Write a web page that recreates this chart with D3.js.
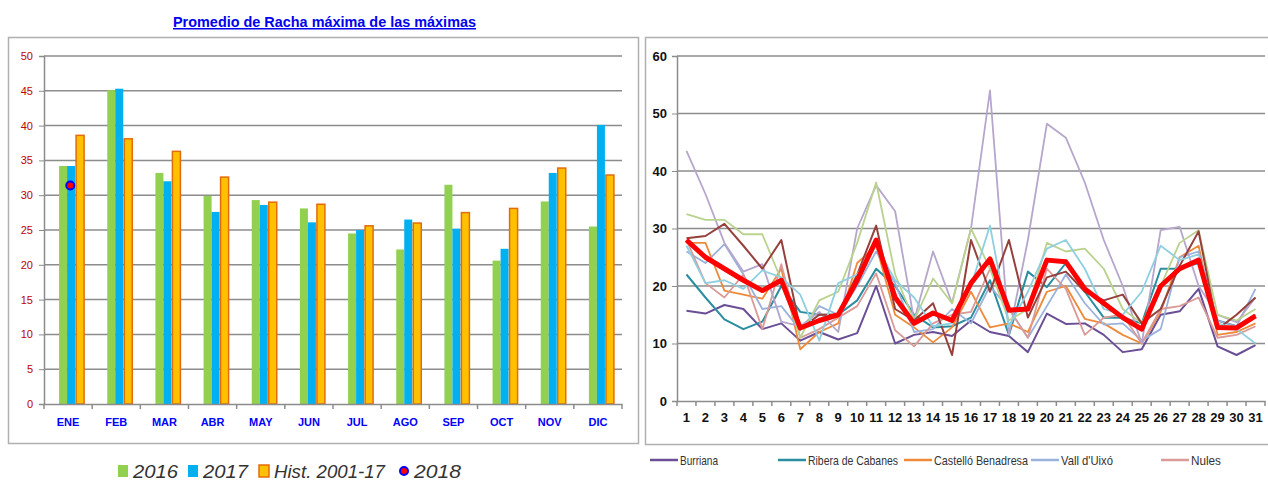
<!DOCTYPE html>
<html>
<head>
<meta charset="utf-8">
<script src="https://cdn.jsdelivr.net/npm/d3@7"></script>
<style>
  body { margin: 0; background: #fff; }
  svg { display: block; }
  text { font-family: "Liberation Sans", Arial, sans-serif; }
</style>
</head>
<body>
<div id="chart"></div>
<script>
// Left chart data: monthly averages
const MONTHS = ["ENE", "FEB", "MAR", "ABR", "MAY", "JUN", "JUL", "AGO", "SEP", "OCT", "NOV", "DIC"];
const VAL_2016 = [34.2, 45.1, 33.2, 29.9, 29.3, 28.1, 24.5, 22.2, 31.5, 20.6, 29.1, 25.5];
const VAL_2017 = [34.2, 45.3, 32.0, 27.6, 28.6, 26.1, 25.0, 26.5, 25.2, 22.3, 33.2, 40.1];
const VAL_HIST = [38.6, 38.1, 36.3, 32.6, 29.0, 28.7, 25.6, 26.0, 27.5, 28.1, 33.9, 32.9];
const VAL_2018 = [31.4];
const LEFT_TICKS = [0, 5, 10, 15, 20, 25, 30, 35, 40, 45, 50];

// Right chart data: daily values per station
const DAYS = d3.range(1, 32);
const RIGHT_TICKS = [0, 10, 20, 30, 40, 50, 60];
const BURRIANA = [15.7, 15.2, 16.7, 16, 12.5, 13.5, 10.5, 12, 10.7, 11.8, 20, 10, 11.5, 12, 11.3, 14, 12, 11.3, 8.5, 15.2, 13.4, 13.5, 11.5, 8.5, 9, 15, 15.6, 19.5, 9.5, 8, 9.7];
const RIBERA = [22, 18, 14.2, 12.5, 13.8, 20, 15.5, 15, 15, 17.5, 23, 20, 15, 12.8, 13, 14.5, 21, 11.5, 22.5, 19.8, 24, 19, 14.5, 14.5, 13.5, 23, 23, 24, 14, 13, 15];
const CASTELLO = [27.5, 27.5, 19.2, 18.5, 17.8, 23, 9, 12, 13.5, 24, 27, 15, 12.8, 10.2, 12.8, 19, 12.8, 13.5, 12, 19, 20, 14.3, 13.5, 11.5, 10, 15.5, 25, 27, 11.5, 12, 13.5];
const VALL_UIXO = [26, 24, 27.3, 22, 16, 16.5, 12.3, 16.5, 15, 20, 26, 20.5, 12, 12.5, 16, 13.5, 20, 16, 11, 16.5, 22, 17, 13.3, 13.5, 10.5, 12.5, 25, 26, 14, 13, 19.5];
const NULES = [28, 20.5, 18, 22, 12.5, 23.8, 11, 12.5, 14.5, 16.5, 22.2, 12.3, 9.5, 13.5, 15, 15.5, 23, 16, 11, 23, 19.5, 11.5, 14.5, 15, 10, 16, 16.5, 18, 11, 11.5, 13];
// series whose legend entries are cut off in the picture
const OTHER_A = [43.5, 36, 27.5, 22.5, 23.8, 13.8, 13, 15.5, 12, 30, 37.5, 33, 14, 26, 17, 30, 54, 11.5, 28, 48.2, 45.8, 38, 28, 20, 10, 29.7, 30.3, 20, 15, 13.7, 18];
const OTHER_B = [32.5, 31.5, 31.5, 29, 29, 21, 11, 17.5, 19, 27.5, 38, 22, 14, 21.3, 17, 30, 23, 14, 16, 27.5, 26, 26.5, 23, 16, 13.5, 20, 27.5, 29.7, 15, 14, 16];
const OTHER_C = [28.3, 28.7, 30.8, 27, 23, 28, 12.5, 15, 15, 22, 30.5, 16, 14, 17, 8, 28, 19, 28, 14.5, 21.5, 22.5, 19, 17.5, 18.5, 13.5, 16, 23.5, 29.5, 12.5, 15, 18];
const OTHER_D = [27, 20.5, 21, 19.5, 22.7, 21.5, 18.5, 10.5, 20.5, 22, 27, 21, 18, 13, 13.5, 20, 30.5, 13, 19, 26.5, 28, 23, 16, 15, 19, 27, 24.5, 25.5, 13.5, 12.5, 10];
const AVERAGE = [28, 25, 23, 21, 19.2, 21, 12.7, 14, 15, 21, 28, 18, 13.5, 15.3, 14, 20.5, 24.7, 15.8, 16, 24.5, 24.2, 19.5, 17, 14.5, 12.5, 20, 23, 24.5, 12.8, 12.7, 14.8];

const WIDTH = 1268;
const HEIGHT = 483;

const svg = d3.select("#chart").append("svg")
    .attr("width", WIDTH).attr("height", HEIGHT);

drawLeft();
drawRight();

function drawLeft () {
    const plot = { left: 44, right: 622, top: 56, bottom: 404 };

    // frame
    svg.append("rect").attr("x", 8.5).attr("y", 37.5).attr("width", 630).attr("height", 406)
        .attr("fill", "#fff").attr("stroke", "#b0b0b0").attr("stroke-width", 1.5);

    // title
    svg.append("text").attr("x", 324.5).attr("y", 27).attr("text-anchor", "middle")
        .attr("font-size", 15).attr("font-weight", "bold").attr("fill", "#0000ee")
        .attr("text-decoration", "underline")
        .attr("textLength", 303).attr("lengthAdjust", "spacingAndGlyphs")
        .text("Promedio de Racha máxima de las máximas");

    const x = d3.scaleBand().domain(MONTHS).range([plot.left, plot.right]);
    const y = d3.scaleLinear().domain([0, 50]).range([plot.bottom, plot.top]);

    const g = svg.append("g");

    // grid lines
    g.selectAll(".grid").data(LEFT_TICKS.filter(d => d > 0)).enter().append("line")
        .attr("x1", plot.left).attr("x2", plot.right)
        .attr("y1", d => y(d)).attr("y2", d => y(d))
        .attr("stroke", "#8c8c8c").attr("stroke-width", 1.5);

    const barW = 8;
    const offset = x.bandwidth() / 2 - 9;
    const series = [
        { values: VAL_2016, fill: "#92d050", stroke: "none", dx: 0 },
        { values: VAL_2017, fill: "#00b0f0", stroke: "none", dx: barW },
        { values: VAL_HIST, fill: "#ffc000", stroke: "#e36c09", dx: barW * 2 + 1 }
    ];
    series.forEach(s => {
        g.selectAll(null).data(MONTHS).enter().append("rect")
            .attr("x", d => x(d) + offset + s.dx)
            .attr("y", (d, i) => y(s.values[i]))
            .attr("width", barW)
            .attr("height", (d, i) => y(0) - y(s.values[i]))
            .attr("fill", s.fill)
            .attr("stroke", s.stroke).attr("stroke-width", 1.5);
    });

    // 2018 points
    g.selectAll(".p2018").data(VAL_2018).enter().append("circle")
        .attr("cx", (d, i) => x(MONTHS[i]) + offset + barW * 1.4)
        .attr("cy", d => y(d))
        .attr("r", 4).attr("fill", "#ff0000").attr("stroke", "#0000ff").attr("stroke-width", 2);

    // y axis
    const yAxis = g.append("g").attr("transform", `translate(${plot.left},0)`)
        .call(d3.axisLeft(y).tickValues(LEFT_TICKS).tickSize(5).tickPadding(6));
    yAxis.select(".domain").attr("stroke", "#8c8c8c").attr("stroke-width", 1.5);
    yAxis.selectAll(".tick line").attr("stroke", "#8c8c8c");
    yAxis.selectAll("text").attr("fill", "#c00000").attr("font-size", 11)
        .attr("font-family", "'Liberation Sans', sans-serif");

    // x axis
    const xAxis = g.append("g").attr("transform", `translate(0,${plot.bottom})`)
        .call(d3.axisBottom(x).tickSize(0).tickPadding(14));
    xAxis.select(".domain").attr("stroke", "#8c8c8c").attr("stroke-width", 1.5);
    xAxis.selectAll("text").attr("fill", "#0000ff").attr("font-size", 11).attr("font-weight", "bold")
        .attr("font-family", "'Liberation Sans', sans-serif");
    g.selectAll(".xtick").data(d3.range(MONTHS.length + 1)).enter().append("line")
        .attr("x1", i => plot.left + i * x.step()).attr("x2", i => plot.left + i * x.step())
        .attr("y1", plot.bottom).attr("y2", plot.bottom + 5)
        .attr("stroke", "#8c8c8c").attr("stroke-width", 1.5);

    // legend
    const leg = svg.append("g").attr("font-size", 19).attr("font-style", "italic").attr("fill", "#333");
    const items = [
        { label: "2016", x: 118, w: 45, type: "rect", fill: "#92d050" },
        { label: "2017", x: 188, w: 45, type: "rect", fill: "#00b0f0" },
        { label: "Hist. 2001-17", x: 259, w: 111, type: "rect", fill: "#ffc000", stroke: "#e36c09" },
        { label: "2018", x: 399, w: 47, type: "dot" }
    ];
    items.forEach(it => {
        if (it.type === "rect") {
            leg.append("rect").attr("x", it.x).attr("y", 465).attr("width", 10).attr("height", 12)
                .attr("fill", it.fill).attr("stroke", it.stroke || "none").attr("stroke-width", 1.5);
        } else {
            leg.append("circle").attr("cx", it.x + 5).attr("cy", 471).attr("r", 4)
                .attr("fill", "#ff0000").attr("stroke", "#0000ff").attr("stroke-width", 2);
        }
        leg.append("text").attr("x", it.x + 15).attr("y", 478)
            .attr("textLength", it.w).attr("lengthAdjust", "spacingAndGlyphs")
            .text(it.label);
    });
}

function drawRight () {
    const plot = { left: 677, right: 1265, top: 56, bottom: 401 };

    svg.append("rect").attr("x", 645.5).attr("y", 37.5).attr("width", 640).attr("height", 407)
        .attr("fill", "#fff").attr("stroke", "#b0b0b0").attr("stroke-width", 1.5);

    const x = d3.scaleBand().domain(DAYS).range([plot.left, plot.right]);
    const y = d3.scaleLinear().domain([0, 60]).range([plot.bottom, plot.top]);
    const g = svg.append("g");

    g.selectAll(".grid").data(RIGHT_TICKS.filter(d => d > 0)).enter().append("line")
        .attr("x1", plot.left).attr("x2", plot.right)
        .attr("y1", d => y(d)).attr("y2", d => y(d))
        .attr("stroke", "#8c8c8c").attr("stroke-width", 1.5);

    const yAxis = g.append("g").attr("transform", `translate(${plot.left},0)`)
        .call(d3.axisLeft(y).tickValues(RIGHT_TICKS).tickSize(5).tickPadding(5));
    yAxis.select(".domain").attr("stroke", "#8c8c8c").attr("stroke-width", 1.5);
    yAxis.selectAll(".tick line").attr("stroke", "#8c8c8c");
    yAxis.selectAll("text").attr("fill", "#111").attr("font-size", 13).attr("font-weight", "bold")
        .attr("font-family", "'Liberation Sans', sans-serif");

    const xAxis = g.append("g").attr("transform", `translate(0,${plot.bottom})`)
        .call(d3.axisBottom(x).tickSize(0).tickPadding(12));
    xAxis.select(".domain").attr("stroke", "#8c8c8c").attr("stroke-width", 1.5);
    xAxis.selectAll("text").attr("fill", "#111").attr("font-size", 13).attr("font-weight", "bold")
        .attr("font-family", "'Liberation Sans', sans-serif");
    g.selectAll(".xtick").data(d3.range(DAYS.length + 1)).enter().append("line")
        .attr("x1", i => plot.left + i * x.step()).attr("x2", i => plot.left + i * x.step())
        .attr("y1", plot.bottom).attr("y2", plot.bottom + 5)
        .attr("stroke", "#8c8c8c").attr("stroke-width", 1.5);

    const line = d3.line()
        .x((d, i) => x(DAYS[i]) + x.bandwidth() / 2)
        .y(d => y(d));

    const series = [
        { name: "Burriana", values: BURRIANA, color: "#6a4e96", width: 2, legend: true, w: 38 },
        { name: "Ribera de Cabanes", values: RIBERA, color: "#2a8ea0", width: 2, legend: true, w: 90 },
        { name: "Castelló Benadresa", values: CASTELLO, color: "#ee8a3a", width: 1.8, legend: true, w: 94 },
        { name: "Vall d'Uixó", values: VALL_UIXO, color: "#9ab2dc", width: 1.8, legend: true, w: 52 },
        { name: "Nules", values: NULES, color: "#d99a98", width: 1.8, legend: true, w: 30 },
        { name: "", values: OTHER_A, color: "#b6a6cc", width: 1.8 },
        { name: "", values: OTHER_B, color: "#b9d28e", width: 1.8 },
        { name: "", values: OTHER_C, color: "#96403c", width: 2 },
        { name: "", values: OTHER_D, color: "#8fcfe0", width: 1.8 },
        { name: "", values: AVERAGE, color: "#ff0000", width: 5 }
    ];

    series.forEach(s => {
        g.append("path").datum(s.values)
            .attr("d", line).attr("fill", "none")
            .attr("stroke", s.color).attr("stroke-width", s.width)
            .attr("stroke-linejoin", "round");
    });

    // legend
    const legX = [650, 778, 904, 1031, 1161];
    const leg = svg.append("g");
    series.filter(s => s.legend).forEach((s, i) => {
        leg.append("line").attr("x1", legX[i]).attr("x2", legX[i] + 28)
            .attr("y1", 460).attr("y2", 460)
            .attr("stroke", s.color).attr("stroke-width", 2.5);
        leg.append("text").attr("x", legX[i] + 30).attr("y", 464.5)
            .attr("font-size", 13).attr("fill", "#333")
            .attr("textLength", s.w).attr("lengthAdjust", "spacingAndGlyphs")
            .text(s.name);
    });
}
</script>
</body>
</html>
